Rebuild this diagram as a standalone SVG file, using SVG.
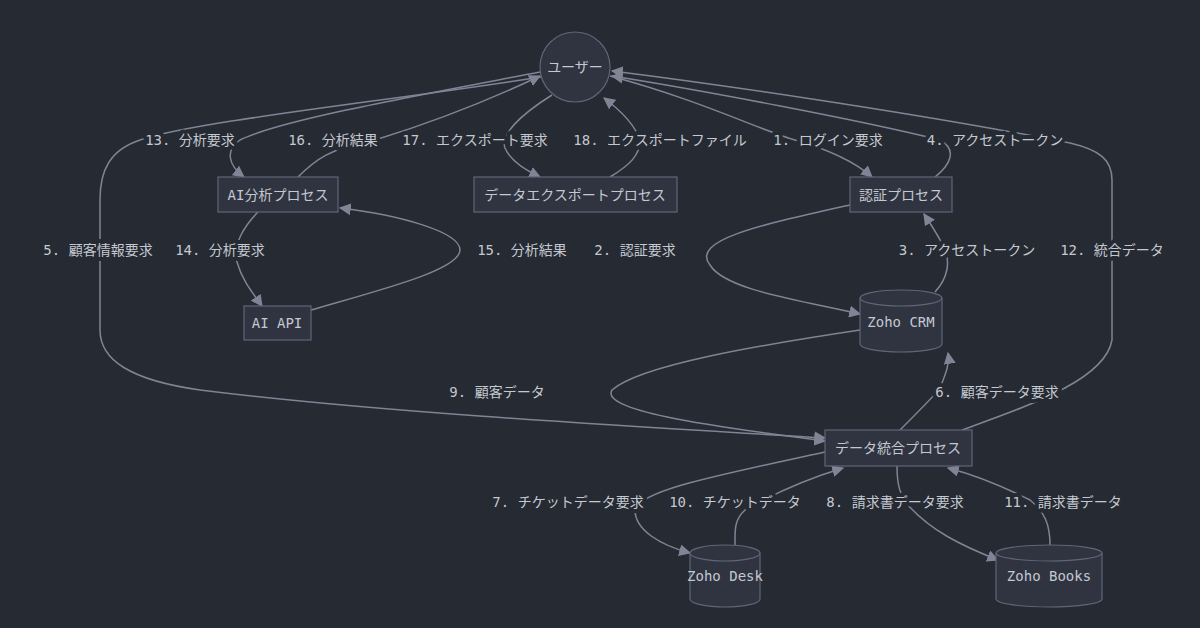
<svg xmlns="http://www.w3.org/2000/svg" width="1200" height="628" viewBox="0 0 1200 628">
<defs>
<marker id="ar" viewBox="0 0 10 10" refX="9" refY="5" markerWidth="12" markerHeight="12" orient="auto" markerUnits="userSpaceOnUse"><path d="M0,0L10,5L0,10z" fill="#7f8595"/></marker>
</defs>
<style>
.n{fill:#2f3440;stroke:#5f6677;stroke-width:1.2}
.t{font-family:"DejaVu Sans Mono","Noto Sans CJK JP",monospace;font-size:14px;fill:#c4c8d0;text-anchor:middle;dominant-baseline:central}
.e path{fill:none;stroke:#7f8595;stroke-width:1.5;marker-end:url(#ar)}
.l{font-family:"DejaVu Sans Mono","Noto Sans CJK JP",monospace;font-size:14px;fill:#c4c8d0;text-anchor:middle;dominant-baseline:central;stroke:#262a33;stroke-width:8px;paint-order:stroke;stroke-linejoin:round}
</style>
<rect width="1200" height="628" fill="#262a33"/>
<g class="e" id="connectors">
<path d="M610,76 C700,100 760,130 795,140 C830,150 855,162 872,177"/>
<path d="M850,205 C760,225 690,240 710,265 C725,290 800,300 860,314"/>
<path d="M935,292 C948,278 950,262 945,250 C940,238 932,226 924,214"/>
<path d="M935,177 C950,165 958,150 940,140 C860,120 700,90 612,76"/>
<path d="M560,74 C400,100 200,120 140,140 C110,150 100,170 100,200 L100,330 C100,360 130,380 200,390 C400,415 700,430 825,438"/>
<path d="M900,430 C920,410 938,392 940,388 C945,375 950,365 948,353"/>
<path d="M825,452 C720,475 640,490 635,510 C635,530 660,545 690,553"/>
<path d="M897,466 C897,485 900,495 908,505 C930,530 960,545 998,560"/>
<path d="M860,330 C760,345 640,365 612,390 C600,410 700,425 825,441"/>
<path d="M735,545 C735,530 734,520 745,510 C780,490 810,478 843,468"/>
<path d="M1050,545 C1050,525 1045,512 1030,500 C1000,485 975,475 948,468"/>
<path d="M962,430 C1030,405 1105,380 1112,340 L1112,180 C1112,160 1100,150 1070,143 C900,110 700,82 612,71"/>
<path d="M540,72 C420,95 280,120 240,140 C225,150 228,165 244,177"/>
<path d="M258,212 C245,225 232,245 237,262 C242,280 252,292 262,306"/>
<path d="M311,310 C380,290 460,270 460,250 C460,232 400,215 340,208"/>
<path d="M298,177 C315,160 330,148 375,140 C440,120 500,95 540,76"/>
<path d="M552,95 C520,115 500,135 505,148 C510,160 525,170 540,177"/>
<path d="M610,177 C630,165 640,155 640,140 C635,125 620,110 604,98"/>
</g>
<g id="labels">
<text class="l" x="828" y="140">1. ログイン要求</text>
<text class="l" x="635" y="250">2. 認証要求</text>
<text class="l" x="967" y="250">3. アクセストークン</text>
<text class="l" x="995" y="140">4. アクセストークン</text>
<text class="l" x="98" y="250">5. 顧客情報要求</text>
<text class="l" x="997" y="392">6. 顧客データ要求</text>
<text class="l" x="568" y="502">7. チケットデータ要求</text>
<text class="l" x="895" y="502">8. 請求書データ要求</text>
<text class="l" x="497" y="392">9. 顧客データ</text>
<text class="l" x="735" y="502">10. チケットデータ</text>
<text class="l" x="1063" y="502">11. 請求書データ</text>
<text class="l" x="1112" y="250">12. 統合データ</text>
<text class="l" x="190" y="140">13. 分析要求</text>
<text class="l" x="220" y="250">14. 分析要求</text>
<text class="l" x="522" y="250">15. 分析結果</text>
<text class="l" x="333" y="140">16. 分析結果</text>
<text class="l" x="475" y="140">17. エクスポート要求</text>
<text class="l" x="660" y="140">18. エクスポートファイル</text>
</g>
<g id="user"><circle class="n" cx="575" cy="67" r="35"/><text class="t" x="575" y="67">ユーザー</text></g>
<g id="ai"><rect class="n" x="218" y="177" width="120" height="35"/><text class="t" x="278" y="195">AI分析プロセス</text></g>
<g id="export"><rect class="n" x="474" y="177" width="203" height="35"/><text class="t" x="575" y="195">データエクスポートプロセス</text></g>
<g id="auth"><rect class="n" x="850" y="177" width="102" height="35"/><text class="t" x="901" y="195">認証プロセス</text></g>
<g id="aiapi"><rect class="n" x="244" y="306" width="67" height="34"/><text class="t" x="277" y="323">AI API</text></g>
<g id="crm"><path class="n" d="M860,298 A41,8 0 0 1 942,298 L942,344 A41,8 0 0 1 860,344 Z"/><path class="n" fill="none" d="M860,298 A41,8 0 0 0 942,298"/><text class="t" x="901" y="322">Zoho CRM</text></g>
<g id="integ"><rect class="n" x="825" y="430" width="147" height="36"/><text class="t" x="898" y="448">データ統合プロセス</text></g>
<g id="desk"><path class="n" d="M690,553 A35,8 0 0 1 760,553 L760,599 A35,8 0 0 1 690,599 Z"/><path class="n" d="M690,553 A35,8 0 0 0 760,553"/><text class="t" x="725" y="576">Zoho Desk</text></g>
<g id="books"><path class="n" d="M996,553 A53,8 0 0 1 1102,553 L1102,599 A53,8 0 0 1 996,599 Z"/><path class="n" d="M996,553 A53,8 0 0 0 1102,553"/><text class="t" x="1049" y="576">Zoho Books</text></g>
</svg>
